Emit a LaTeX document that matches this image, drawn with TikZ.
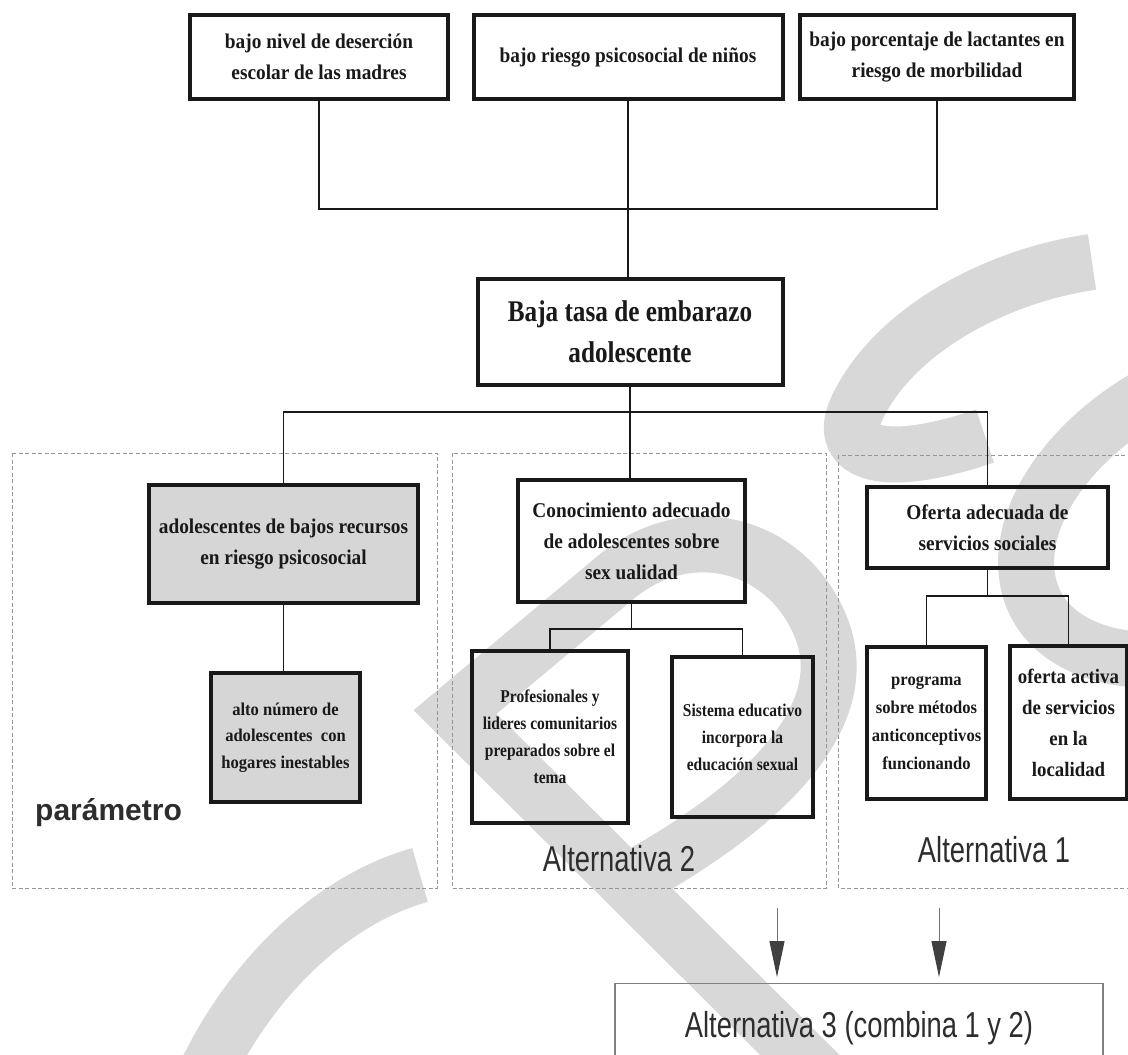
\documentclass[tikz,border=0pt]{standalone}
\usepackage{fontspec}
\usetikzlibrary{arrows.meta}
\newfontfamily\serA[FakeStretch=0.92]{Liberation Serif}
\newfontfamily\serB[FakeStretch=0.86]{Liberation Serif}
\newfontfamily\serT[FakeStretch=0.84]{Liberation Serif}
\newfontfamily\sanA[FakeStretch=0.76]{Liberation Sans}
\newfontfamily\sanP{Liberation Sans}
\definecolor{wm}{RGB}{216,216,216}
\definecolor{ink}{RGB}{25,25,25}
\definecolor{fillg}{RGB}{214,214,214}
\definecolor{dashg}{RGB}{150,150,150}
\definecolor{txtg}{RGB}{45,45,45}
\begin{document}
\begin{tikzpicture}[x=1pt,y=-1pt,
  wmark/.style={draw=wm, line width=56pt, line cap=butt},
  box/.style={draw=ink, line width=4pt, inner sep=0pt, outer sep=0pt, align=center, text=ink},
  gbox/.style={box, fill=fillg},
  tA/.style={font={\serA\bfseries\fontsize{21}{31}\selectfont}},
  tS/.style={font={\serB\bfseries\fontsize{18}{27}\selectfont}},
  tT/.style={font={\serT\bfseries\fontsize{30}{41}\selectfont}},
  conn/.style={draw=ink, line width=1.6pt},
  dashbox/.style={draw=dashg, line width=0.9pt, dash pattern=on 4pt off 2.5pt},
  lab/.style={font={\sanA\fontsize{36}{40}\selectfont}, text=txtg, inner sep=0pt},
  param/.style={font={\sanP\bfseries\fontsize{30}{34}\selectfont}, text=txtg, inner sep=0pt},
  arr/.style={draw=black!55, line width=1pt, -{Triangle[length=36pt,width=15pt,color=black!75]}},
  alt3box/.style={draw=black!50, line width=1.3pt, inner xsep=0pt, inner ysep=0pt,
    minimum width=488pt, text height=54pt, text depth=60pt, font={\sanA\fontsize{36}{40}\selectfont}, text=txtg}
]
\useasboundingbox (0,0) rectangle (1128,1055);
\clip (0,0) rectangle (1128,1055);
\fill[white] (0,0) rectangle (1128,1055);

% watermark
\draw[wmark] (1092,262) .. controls (1000,275) and (895,328) .. (857,408) .. controls (835,455) and (885,470) .. (985,436);
\draw[wmark] (1150,395) .. controls (1070,440) and (1010,520) .. (1030,590) .. controls (1045,640) and (1100,660) .. (1150,660);
\draw[wmark] (820,1075) -- (455,712) -- (615,578) .. controls (690,515) and (790,545) .. (822,630) .. controls (850,705) and (790,790) .. (640,875);
\draw[wmark] (205,1075) .. controls (250,980) and (330,900) .. (420,875);

% dashed groups
\draw[dashbox] (12,453) rectangle (437,888);
\draw[dashbox] (452,453) rectangle (826,888);
\draw[dashbox] (838,455) rectangle (1140,888);

% top row
\node[box, tA, minimum width=258pt, minimum height=84pt] (B1) at (319,57) {bajo nivel de deserción\\escolar de las madres};
\node[box, tA, minimum width=309pt, minimum height=84pt] (B2) at (628,57) {bajo riesgo psicosocial de niños};
\node[box, tA, minimum width=274pt, minimum height=84pt] (B3) at (937,57) {bajo porcentaje de lactantes en\\riesgo de morbilidad};

% central
\node[box, tT, minimum width=305pt, minimum height=106pt] (C) at (630,332) {Baja tasa de embarazo\\adolescente};

% second level
\node[gbox, tA, minimum width=269pt, minimum height=118pt] (G1) at (283.5,544) {adolescentes de bajos recursos\\en riesgo psicosocial};
\node[gbox, font={\serA\bfseries\fontsize{18}{26.5}\selectfont}, minimum width=149pt, minimum height=129pt] (G2) at (285.5,737.5) {alto número de\\adolescentes\ \ con\\hogares inestables};
\node[box, tA, minimum width=227pt, minimum height=122pt] (M1) at (631.5,541) {Conocimiento adecuado\\de adolescentes sobre\\sex ualidad};
\node[box, tS, minimum width=156pt, minimum height=172pt] (M2) at (550,737) {Profesionales y\\lideres comunitarios\\preparados sobre el\\tema};
\node[box, tS, minimum width=141pt, minimum height=160pt] (M3) at (742.5,737) {Sistema educativo\\incorpora la\\educación sexual};
\node[box, tA, minimum width=241pt, minimum height=81pt] (R1) at (987.5,527.5) {Oferta adecuada de\\servicios sociales};
\node[box, font={\serA\bfseries\fontsize{18}{28}\selectfont}, minimum width=119pt, minimum height=152pt] (R2) at (926.5,723) {programa\\sobre métodos\\anticonceptivos\\funcionando};
\node[box, font={\serA\bfseries\fontsize{20.5}{31}\selectfont}, minimum width=117pt, minimum height=153pt] (R3) at (1068.5,722.5) {oferta activa\\de servicios\\en la\\localidad};

% connectors
\coordinate (jt) at (628,209);
\draw[conn] (B1.south) |- (jt) -| (B3.south);
\draw[conn] (B2.south) -- (B2.south |- C.north);
\coordinate (jm) at (631,412);
\draw[conn] (C.south) -- (C.south |- M1.north);
\draw[conn] (G1.north) |- (jm) -| (R1.north);
\draw[conn] (G1.south) -- (G1.south |- G2.north);
\draw[conn] (M1.south) -- ++(0,27) coordinate (jm2);
\draw[conn] (M2.north) |- (jm2) -| (M3.north);
\draw[conn] (R1.south) -- ++(0,28) coordinate (jr);
\draw[conn] (R2.north) |- (jr) -| (R3.north);

% labels
\node[param, anchor=base west] (par) at (35,820) {parámetro};
\node[lab, anchor=base] (alt2) at (619,871) {Alternativa 2};
\node[lab, anchor=base] (alt1) at (994,862) {Alternativa 1};

% bottom
\node[alt3box, anchor=north] (alt3) at (859,983) {Alternativa 3 (combina 1 y 2)};
\coordinate (a2s) at (777,908);
\coordinate (a1s) at (939,908);
\draw[arr, shorten >=6pt] (a2s) -- (a2s |- alt3.north);
\draw[arr, shorten >=6pt] (a1s) -- (a1s |- alt3.north);
\end{tikzpicture}
\end{document}
